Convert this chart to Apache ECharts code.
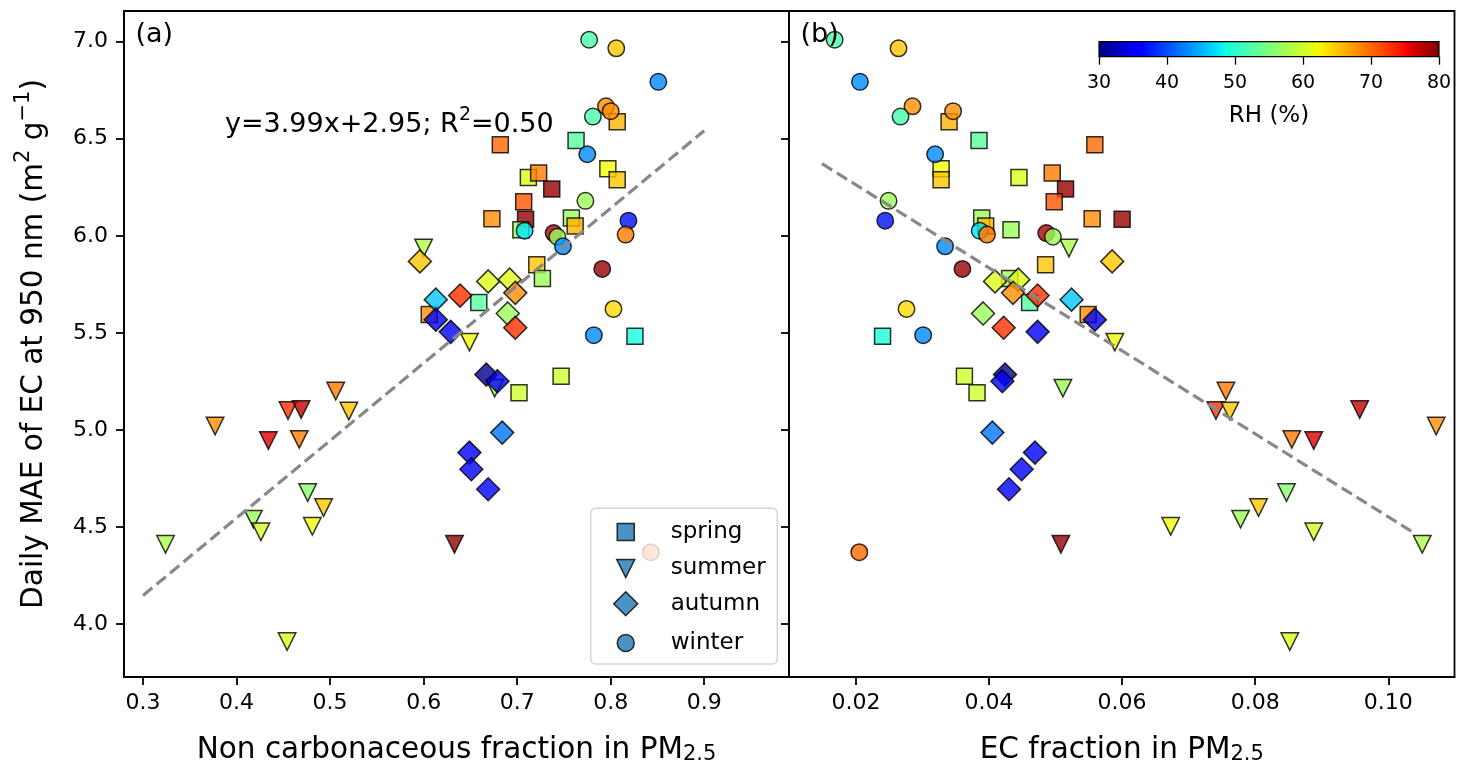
<!DOCTYPE html>
<html><head><meta charset="utf-8">
<script src="https://cdn.jsdelivr.net/npm/echarts@6/dist/echarts.min.js"></script>
<style>html,body{margin:0;padding:0;background:#fff}#c{width:1458px;height:767px}</style>
</head><body><div id="c"></div><script>
// ---------------- data ----------------
const seasons = ['spring', 'summer', 'autumn', 'winter'];

const springY  = [6.588, 6.491, 6.469, 6.345, 6.289, 6.300, 6.323, 6.241, 6.175, 6.088, 6.085, 6.092, 6.050, 6.031, 5.851, 5.780, 5.656, 5.594, 5.482, 5.277, 5.191];
const springA  = [0.807, 0.763, 0.682, 0.797, 0.807, 0.712, 0.723, 0.737, 0.707, 0.673, 0.709, 0.758, 0.762, 0.704, 0.721, 0.727, 0.659, 0.606, 0.826, 0.747, 0.702];
const springB  = [0.0340, 0.0385, 0.0559, 0.0328, 0.0328, 0.0445, 0.0495, 0.0515, 0.0498, 0.0555, 0.0600, 0.0389, 0.0395, 0.0433, 0.0485, 0.0431, 0.0461, 0.0549, 0.0240, 0.0363, 0.0382];
const springRH = [66, 53, 70, 62, 65, 61, 69, 79, 71, 68, 79, 57, 66, 57, 65, 57, 53, 68, 49, 60, 60];

const summerY  = [5.937, 5.452, 5.215, 5.020, 5.100, 5.105, 5.200, 5.097, 4.945, 4.951, 4.677, 4.600, 4.503, 4.540, 4.475, 4.411, 3.910, 4.411];
const summerA  = [0.600, 0.649, 0.676, 0.377, 0.455, 0.469, 0.506, 0.520, 0.434, 0.467, 0.476, 0.493, 0.481, 0.418, 0.426, 0.324, 0.454, 0.633];
const summerB  = [0.0520, 0.0589, 0.0511, 0.1072, 0.0741, 0.0957, 0.0756, 0.0762, 0.0888, 0.0855, 0.0847, 0.0805, 0.0673, 0.0778, 0.0888, 0.1051, 0.0852, 0.0508];
const summerRH = [58, 62, 57, 68, 73, 77, 69, 65, 76, 69, 56, 65, 62, 57, 60, 58, 61, 79];

const autumnY  = [5.868, 5.765, 5.774, 5.706, 5.692, 5.671, 5.568, 5.600, 5.526, 5.505, 5.285, 5.251, 4.986, 4.883, 4.797, 4.694];
const autumnA  = [0.596, 0.669, 0.692, 0.698, 0.639, 0.613, 0.613, 0.690, 0.698, 0.629, 0.667, 0.679, 0.684, 0.649, 0.651, 0.669];
const autumnB  = [0.0585, 0.0409, 0.0444, 0.0436, 0.0473, 0.0524, 0.0559, 0.0391, 0.0422, 0.0473, 0.0424, 0.0420, 0.0405, 0.0469, 0.0449, 0.0430];
const autumnRH = [65, 61, 61, 68, 73, 46, 35, 57, 73, 36, 31, 35, 42, 36, 36, 36];

const winterY  = [7.010, 6.966, 6.793, 6.667, 6.642, 6.614, 6.420, 6.180, 6.078, 6.026, 6.006, 6.014, 5.995, 5.946, 5.829, 5.623, 5.488, 4.370];
const winterA  = [0.777, 0.806, 0.851, 0.795, 0.800, 0.781, 0.775, 0.773, 0.819, 0.708, 0.816, 0.739, 0.743, 0.749, 0.791, 0.803, 0.782, 0.843];
const winterB  = [0.0168, 0.0264, 0.0206, 0.0285, 0.0346, 0.0267, 0.0319, 0.0249, 0.0244, 0.0386, 0.0397, 0.0486, 0.0496, 0.0334, 0.0360, 0.0276, 0.0301, 0.0205];
const winterRH = [52, 65, 43, 68, 68, 52, 43, 57, 37, 47.5, 69, 78, 57, 43, 79, 64, 43, 70];

const yTicks  = [4.0, 4.5, 5.0, 5.5, 6.0, 6.5, 7.0];
const xTicksA = [0.3, 0.4, 0.5, 0.6, 0.7, 0.8, 0.9];
const xTicksB = [0.02, 0.04, 0.06, 0.08, 0.10];
const rhRange = [30, 80];

// regression fits: [slope, intercept], [xStart, xEnd]
const fitA = [3.99, 2.95],  fitARange = [0.3, 0.9];
const fitB = [-21.38, 6.69], fitBRange = [0.0149, 0.1039];

// ---------------- helpers ----------------
const FONT = 'DejaVu Sans';
function interp(pts, t) {
  for (let i = 1; i < pts.length; i++) {
    if (t <= pts[i][0]) {
      const a = pts[i - 1], b = pts[i];
      return a[1] + (b[1] - a[1]) * (t - a[0]) / (b[0] - a[0]);
    }
  }
  return pts[pts.length - 1][1];
}
const JR = [[0, 0], [0.35, 0], [0.66, 1], [0.89, 1], [1, 0.5]];
const JG = [[0, 0], [0.125, 0], [0.375, 1], [0.64, 1], [0.91, 0], [1, 0]];
const JB = [[0, 0.5], [0.11, 1], [0.34, 1], [0.65, 0], [1, 0]];
function jet(t) {
  t = Math.max(0, Math.min(1, t));
  return 'rgb(' + Math.round(255 * interp(JR, t)) + ',' + Math.round(255 * interp(JG, t)) + ',' + Math.round(255 * interp(JB, t)) + ')';
}
function rhColor(rh) { return jet((rh - rhRange[0]) / (rhRange[1] - rhRange[0])); }

const SYM = {
  spring: { symbol: 'rect', size: 16, icon: 'path://M0,0L1,0L1,1L0,1Z', isz: 17 },
  summer: { symbol: 'path://M0,0L2,0L1,2Z', size: 17.5, icon: 'path://M0,0L2,0L1,2Z', isz: 18 },
  autumn: { symbol: 'diamond', size: 23, icon: 'path://M1,0L2,1L1,2L0,1Z', isz: 24 },
  winter: { symbol: 'circle', size: 16.5, icon: 'circle', isz: 17 }
};
const DATA = {
  spring: [springY, springA, springB, springRH],
  summer: [summerY, summerA, summerB, summerRH],
  autumn: [autumnY, autumnA, autumnB, autumnRH],
  winter: [winterY, winterA, winterB, winterRH]
};

const series = [];
[0, 1].forEach(function (panel) {
  seasons.forEach(function (s) {
    const d = DATA[s];
    const xs = panel === 0 ? d[1] : d[2];
    series.push({
      type: 'scatter', name: s, xAxisIndex: panel, yAxisIndex: panel,
      symbol: SYM[s].symbol, symbolSize: SYM[s].size,
      data: xs.map(function (x, i) { return [x, d[0][i], d[3][i]]; }),
      itemStyle: {
        color: function (p) { return rhColor(p.value[2]); },
        opacity: 0.8, borderColor: '#000', borderWidth: 1.5
      },
      emphasis: { disabled: true }, z: 2, silent: true
    });
  });
});
function fitLine(f, r) { return r.map(function (x) { return [x, f[0] * x + f[1]]; }); }
[[fitA, fitARange, 0], [fitB, fitBRange, 1]].forEach(function (q) {
  series.push({
    type: 'line', xAxisIndex: q[2], yAxisIndex: q[2], data: fitLine(q[0], q[1]),
    symbol: 'none', silent: true, z: 3,
    lineStyle: { color: '#888', width: 3.2, type: [12, 5.5] }
  });
});
// colorbar
const stops = [];
for (let i = 0; i <= 64; i++) stops.push({ offset: i / 64, color: jet(i / 64) });
series.push({
  type: 'custom', xAxisIndex: 2, yAxisIndex: 2, silent: true, clip: false,
  data: [[rhRange[0], rhRange[1]]],
  renderItem: function (params, api) {
    const p0 = api.coord([api.value(0), 0]);
    const p1 = api.coord([api.value(1), 1]);
    return {
      type: 'rect',
      shape: { x: p0[0], y: p1[1], width: p1[0] - p0[0], height: p0[1] - p1[1] },
      style: { fill: new echarts.graphic.LinearGradient(0, 0, 1, 0, stops), stroke: '#000', lineWidth: 1.2 }
    };
  }
});

const tickStyle = { color: '#000', width: 1.8 };
const lineAx = { show: true, onZero: false, lineStyle: { color: '#000', width: 1.8 } };
const lbl = { fontFamily: FONT, fontSize: 22, color: '#000' };
const richT = {
  n: { fontFamily: FONT, fontSize: 29.5, lineHeight: 36, verticalAlign: 'bottom', color: '#000' },
  sup: { fontFamily: FONT, fontSize: 21, lineHeight: 20, padding: [0, 0, 15, 0], verticalAlign: 'bottom', color: '#000' },
  sub: { fontFamily: FONT, fontSize: 21, lineHeight: 24, verticalAlign: 'bottom', color: '#000' }
};
const yRange = [3.727, 7.158];

function xAxisFor(idx, ticks, range, dec, name) {
  return {
    type: 'value', gridIndex: idx, min: range[0], max: range[1],
    axisLine: lineAx,
    axisTick: { show: true, customValues: ticks, length: 8, lineStyle: tickStyle },
    axisLabel: Object.assign({ customValues: ticks, margin: 15, formatter: function (v) { return v.toFixed(dec); } }, lbl),
    splitLine: { show: false },
    name: name, nameLocation: 'middle', nameGap: 52,
    nameTextStyle: { fontFamily: FONT, color: '#000', rich: richT }
  };
}
function yAxisFor(idx, showLabel) {
  return {
    type: 'value', gridIndex: idx, min: yRange[0], max: yRange[1],
    axisLine: lineAx,
    axisTick: { show: true, customValues: yTicks, length: 8, lineStyle: tickStyle },
    axisLabel: Object.assign({ show: showLabel, customValues: yTicks, margin: 16, formatter: function (v) { return v.toFixed(1); } }, lbl),
    splitLine: { show: false },
    name: showLabel ? '{n|Daily MAE of EC at 950 nm (m}{sup|2}{n| g}{sup|\u22121}{n|)}' : '',
    nameLocation: 'middle', nameRotate: 90, nameGap: 75,
    nameTextStyle: { fontFamily: FONT, color: '#000', rich: richT }
  };
}

const legendCommon = {
  padding: 0, selectedMode: false, z: 20, orient: 'vertical',
  textStyle: { fontFamily: FONT, fontSize: 23, color: '#000', lineHeight: 12 }
};
const legendRows = { spring: 529, summer: 566, autumn: 603, winter: 640 };
const legends = seasons.map(function (s) {
  const sz = SYM[s].isz;
  return Object.assign({}, legendCommon, {
    left: 625 - sz / 2, top: legendRows[s] - sz / 2,
    itemWidth: sz, itemHeight: sz,
    textStyle: Object.assign({}, legendCommon.textStyle, { padding: [0, 0, 0, 670 - (625 + sz / 2) - 5] }),
    data: [{ name: s, icon: SYM[s].icon, itemStyle: { color: '#1f77b4', opacity: 0.8, borderColor: '#000', borderWidth: 1.5 } }]
  });
});

const option = {
  animation: false,
  backgroundColor: '#fff',
  textStyle: { fontFamily: FONT },
  grid: [
    { left: 124, top: 11, width: 665, height: 666, show: true, borderColor: '#000', borderWidth: 1.8, outerBoundsMode: 'none' },
    { left: 789, top: 11, width: 665.5, height: 666, show: true, borderColor: '#000', borderWidth: 1.8, outerBoundsMode: 'none' },
    { left: 1099, top: 41.7, width: 340, height: 15, show: false, outerBoundsMode: 'none' }
  ],
  xAxis: [
    xAxisFor(0, xTicksA, [0.2796, 0.9907], 1, '{n|Non carbonaceous fraction in PM}{sub|2.5}'),
    xAxisFor(1, xTicksB, [0.00994, 0.10995], 2, '{n|EC fraction in PM}{sub|2.5}'),
    {
      type: 'value', gridIndex: 2, min: rhRange[0], max: rhRange[1], interval: 10,
      axisLine: { show: false },
      axisTick: { show: true, length: 8, lineStyle: { color: '#000', width: 1.3 } },
      axisLabel: { fontFamily: FONT, fontSize: 19, color: '#000', margin: 17 },
      splitLine: { show: false },
      name: 'RH (%)', nameLocation: 'middle', nameGap: 48,
      nameTextStyle: { fontFamily: FONT, fontSize: 23, color: '#000', lineHeight: 23 }
    }
  ],
  yAxis: [
    yAxisFor(0, true),
    yAxisFor(1, false),
    { type: 'value', gridIndex: 2, min: 0, max: 1, show: false }
  ],
  title: [
    { text: '(a)', left: 135.5, top: 21, padding: 0, textStyle: { fontFamily: FONT, fontSize: 27, fontWeight: 'normal', color: '#000', lineHeight: 28 } },
    { text: '(b)', left: 800.5, top: 21, padding: 0, textStyle: { fontFamily: FONT, fontSize: 27, fontWeight: 'normal', color: '#000', lineHeight: 28 } },
    {
      text: '{n|y=3.99x+2.95; R}{sup|2}{n|=0.50}', left: 225, top: 104, padding: 0,
      textStyle: {
        fontFamily: FONT, fontWeight: 'normal', color: '#000',
        rich: {
          n: { fontFamily: FONT, fontSize: 27, lineHeight: 34, verticalAlign: 'bottom', color: '#000' },
          sup: { fontFamily: FONT, fontSize: 19, lineHeight: 20, padding: [0, 0, 13, 0], verticalAlign: 'bottom', color: '#000' }
        }
      }
    }
  ],
  legend: legends,
  graphic: [{
    type: 'rect', z: 10, silent: true,
    shape: { x: 590.7, y: 508.3, width: 186.6, height: 155.7, r: 5 },
    style: { fill: 'rgba(255,255,255,0.8)', stroke: 'rgba(204,204,204,0.8)', lineWidth: 1.5 }
  }],
  series: series
};
const chart = echarts.init(document.getElementById('c'), null, { renderer: 'canvas' });
chart.setOption(option);
</script></body></html>
